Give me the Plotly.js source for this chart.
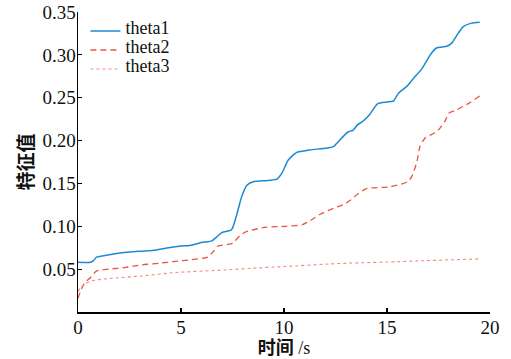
<!DOCTYPE html>
<html>
<head>
<meta charset="utf-8">
<script src="https://cdn.plot.ly/plotly-3.0.1.min.js"></script>
<style>html,body{margin:0;padding:0;background:#fff;}#chart{width:511px;height:359px;}</style>
</head>
<body>
<div id="chart"></div>
<script>
// theta1 (blue solid)
const t1 = [0, 0.6, 0.75, 0.9, 1.1, 1.8, 2.5, 3.1, 3.7, 4.4, 5.0, 5.5, 6.0, 6.5, 6.75, 7.0, 7.45, 7.7, 7.95, 8.2, 8.5, 9.0, 9.65, 9.9, 10.2, 10.6, 11.25, 12.0, 12.4, 12.65, 13.1, 13.35, 13.55, 13.85, 14.15, 14.55, 15.0, 15.3, 15.55, 15.95, 16.3, 16.7, 17.1, 17.4, 17.9, 18.15, 18.45, 18.7, 19.1, 19.5];
const v1 = [0.058, 0.058, 0.060, 0.064, 0.065, 0.068, 0.070, 0.071, 0.072, 0.075, 0.077, 0.078, 0.081, 0.083, 0.088, 0.093, 0.096, 0.113, 0.135, 0.148, 0.152, 0.153, 0.155, 0.162, 0.177, 0.186, 0.189, 0.191, 0.193, 0.199, 0.210, 0.212, 0.218, 0.223, 0.230, 0.243, 0.245, 0.246, 0.255, 0.263, 0.273, 0.284, 0.300, 0.308, 0.310, 0.314, 0.325, 0.333, 0.337, 0.338];
// theta2 (red dashed)
const t2 = [0, 0.15, 0.35, 0.6, 0.9, 1.5, 2.3, 3.1, 4.0, 4.7, 5.5, 6.3, 6.55, 6.8, 7.5, 7.85, 8.2, 9.15, 10.1, 10.9, 11.3, 11.75, 12.4, 12.95, 13.2, 13.6, 14.0, 15.15, 16.0, 16.2, 16.45, 16.6, 16.85, 17.4, 17.8, 18.0, 18.4, 19.0, 19.5];
const v2 = [0.016, 0.026, 0.035, 0.040, 0.048, 0.050, 0.052, 0.055, 0.057, 0.059, 0.061, 0.064, 0.070, 0.077, 0.080, 0.089, 0.094, 0.099, 0.100, 0.102, 0.107, 0.114, 0.121, 0.126, 0.130, 0.138, 0.144, 0.146, 0.152, 0.158, 0.175, 0.193, 0.203, 0.210, 0.222, 0.232, 0.236, 0.244, 0.252];
// theta3 (light red dotted)
const t3 = [0, 0.15, 0.35, 0.8, 1.5, 3.1, 4.7, 7.1, 8.4, 10.0, 12.2, 13.2, 15.5, 16.4, 19.5];
const v3 = [0.024, 0.029, 0.033, 0.037, 0.039, 0.042, 0.046, 0.049, 0.051, 0.053, 0.056, 0.057, 0.0587, 0.0595, 0.062];

const seriesNames = ['theta1', 'theta2', 'theta3'];
const xTicks = [0, 5, 10, 15, 20];
const yTicks = [0.05, 0.10, 0.15, 0.20, 0.25, 0.30, 0.35];
const xTitle = '时间<span style="font-family:Liberation Serif;font-weight:normal"> /s</span>';
const yTitle = '特征值';

const serif = 'Liberation Serif';
const cjk = 'Noto Sans CJK SC';

const traces = [
  {x: t1, y: v1, name: seriesNames[0], mode: 'lines', line: {color: '#1b8ad3', width: 1.5, shape: 'spline', smoothing: 0.6}},
  {x: t2, y: v2, name: seriesNames[1], mode: 'lines', line: {color: '#ea5540', width: 1.3, dash: '6px,4px', shape: 'spline', smoothing: 0.6}},
  {x: t3, y: v3, name: seriesNames[2], mode: 'lines', line: {color: '#ee8b7c', width: 1.1, dash: 'dot', shape: 'spline', smoothing: 0.6}}
];
traces.forEach(tr => { tr.name = '<span style="font-size:18px">' + tr.name + '</span>'; });

const layout = {
  width: 511, height: 359,
  font: {family: serif, size: 19, color: '#111'},
  margin: {l: 78, r: 21, t: 12, b: 47},
  paper_bgcolor: '#fff', plot_bgcolor: '#fff',
  showlegend: true,
  legend: {x: 0.018, y: 0.985, xanchor: 'left', yanchor: 'top', bgcolor: 'rgba(0,0,0,0)', font: {family: serif, size: 8, color: '#111'}, itemwidth: 30, tracegroupgap: 0},
  xaxis: {
    range: [0, 20], tickvals: xTicks, ticktext: xTicks.map(String),
    ticks: 'inside', ticklen: 4, tickwidth: 1.2, tickcolor: '#000',
    showline: true, linecolor: '#000', linewidth: 1.5, showgrid: false, zeroline: false,
    tickfont: {family: serif, size: 19, color: '#111'},
    ticklabelstandoff: -2,
    title: {text: xTitle, font: {family: cjk, size: 18, color: '#111', weight: 'bold'}, standoff: 0}
  },
  yaxis: {
    range: [0, 0.35], tickvals: yTicks, ticktext: yTicks.map(v => v.toFixed(2)),
    ticks: 'inside', ticklen: 4, tickwidth: 1.2, tickcolor: '#000',
    showline: true, linecolor: '#000', linewidth: 1.5, showgrid: false, zeroline: false,
    tickfont: {family: serif, size: 19, color: '#111'},
    ticklabelstandoff: -3,
    title: {text: yTitle, font: {family: cjk, size: 19, color: '#111', weight: 'bold'}, standoff: 4}
  }
};

Plotly.newPlot('chart', traces, layout, {displayModeBar: false, staticPlot: true});
</script>
</body>
</html>
